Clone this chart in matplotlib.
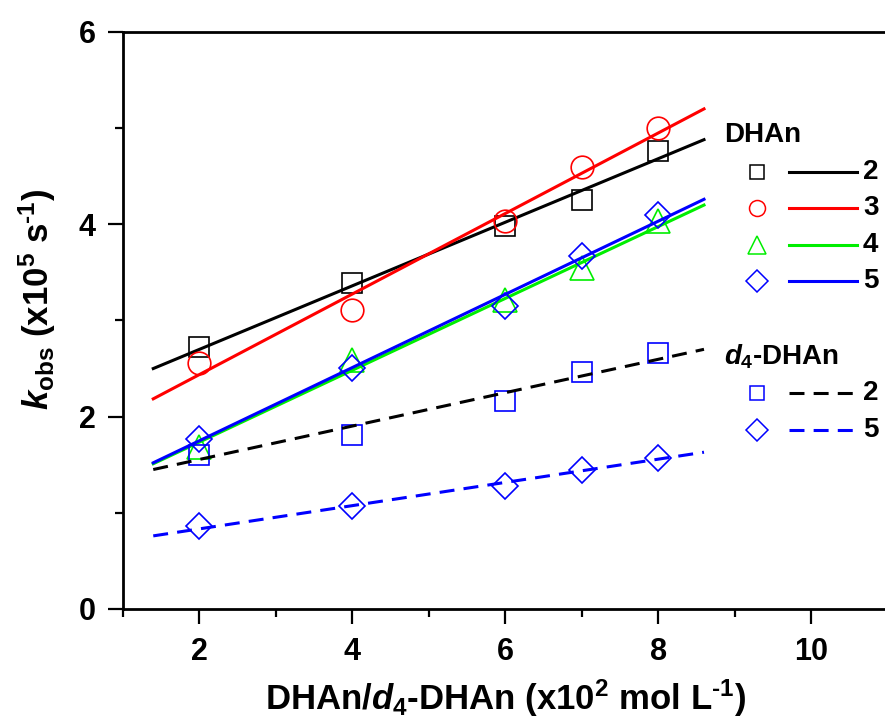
import matplotlib
matplotlib.use('Agg')
import matplotlib.pyplot as plt
from matplotlib.ticker import MultipleLocator

plt.rcParams['font.family'] = ['Liberation Sans', 'DejaVu Sans']
plt.rcParams['font.weight'] = 'bold'
plt.rcParams['mathtext.fontset'] = 'custom'
plt.rcParams['mathtext.rm'] = 'Liberation Sans:bold'
plt.rcParams['mathtext.bf'] = 'Liberation Sans:bold'
plt.rcParams['mathtext.it'] = 'Liberation Sans:bold:italic'

# 浓度 (x10^2 mol/L)
conc = [2, 4, 6, 7, 8]

# DHAn 系列
dhan_2 = [2.72, 3.39, 3.98, 4.25, 4.76]
dhan_3 = [2.56, 3.11, 4.03, 4.60, 5.00]
dhan_4 = [1.68, 2.59, 3.21, 3.55, 4.03]
dhan_5 = [1.77, 2.51, 3.15, 3.67, 4.10]
# d4-DHAn 系列
d4_2 = [1.60, 1.81, 2.16, 2.46, 2.66]
d4_5 = [0.86, 1.07, 1.28, 1.45, 1.57]

# 拟合直线两端
fit_x = [1.4, 8.6]
fit_dhan_2 = [2.50, 4.88]
fit_dhan_3 = [2.185, 5.20]
fit_dhan_4 = [1.51, 4.20]
fit_dhan_5 = [1.52, 4.26]
fit_d4_2 = [1.45, 2.70]
fit_d4_5 = [0.76, 1.63]

legend_dhan = ['2', '3', '4', '5']
legend_d4 = ['2', '5']

fig = plt.figure(figsize=(8.85, 7.28), dpi=100)
ax = fig.add_axes([0.1386, 0.1635, 0.8643, 0.7926])

DASH = (4.9, 3.0)
series = [
    # y, fit, marker, ms, mcolor, lcolor, dashed
    (dhan_2, fit_dhan_2, 's', 13.7, 'black', 'black', False),
    (dhan_3, fit_dhan_3, 'o', 16.3, 'red', 'red', False),
    (dhan_4, fit_dhan_4, '^', 17.5, '#00ee00', '#00ee00', False),
    (dhan_5, fit_dhan_5, 'D', 13.7, 'blue', 'blue', False),
    (d4_2, fit_d4_2, 's', 13.7, 'blue', 'black', True),
    (d4_5, fit_d4_5, 'D', 13.7, 'blue', 'blue', True),
]
for y, fy, mk, ms, mc, lc, dashed in series:
    ax.plot(conc, y, mk, ms=ms, mfc='none', mec=mc, mew=1.2, ls='none')
    ln, = ax.plot(fit_x, fy, color=lc, lw=2.2)
    if dashed:
        ln.set_dashes(DASH)

ax.set_xlim(1, 11)
ax.set_ylim(0, 6)
ax.xaxis.set_major_locator(MultipleLocator(2))
ax.xaxis.set_minor_locator(MultipleLocator(1))
ax.yaxis.set_major_locator(MultipleLocator(2))
ax.yaxis.set_minor_locator(MultipleLocator(1))
ax.spines['right'].set_visible(False)
for s in ('left', 'bottom', 'top'):
    ax.spines[s].set_linewidth(2.0)
ax.tick_params(which='major', direction='out', length=10.5, width=1.6,
               labelsize=22, pad=9)
ax.tick_params(which='minor', direction='out', length=5.5, width=1.6)
ax.tick_params(axis='x', which='major', pad=10)

ax.set_xlabel(r'DHAn/$d_4$-DHAn (x10$^2$ mol L$^{\text{-}1}$)', fontsize=25,
              fontweight='bold')
ax.xaxis.set_label_coords(0.5, -0.118)
ax.set_ylabel(r'$k_{\mathrm{obs}}$ (x10$^5$ s$^{\text{-}1}$)', fontsize=25,
              fontweight='bold', va='center')
ax.yaxis.set_label_coords(-0.112, 0.537)

# 手工图例 (轴坐标)
tA = ax.transAxes
mk_x, ln_x0, ln_x1, lab_x, title_x = 0.829, 0.871, 0.960, 0.968, 0.786
ax.text(title_x, 0.821, 'DHAn', transform=tA, fontsize=20, fontweight='bold',
        ha='left', va='center')
rows_dhan = [0.757, 0.695, 0.631, 0.568]
leg_ms = [10.0, 11.5, 13.5, 10.7]
for (y, fy, mk, ms, mc, lc, dashed), ry, lab, lms in zip(series[:4], rows_dhan,
                                                      legend_dhan, leg_ms):
    ax.plot([mk_x], [ry], mk, ms=lms, mfc='none', mec=mc, mew=1.1,
            transform=tA, clip_on=False)
    ax.plot([ln_x0, ln_x1], [ry, ry], color=lc, lw=2.2, transform=tA,
            clip_on=False)
    ax.text(lab_x, ry, lab, transform=tA, fontsize=20, fontweight='bold',
            ha='left', va='center')

ax.text(title_x, 0.437, r'$d_4$-DHAn', transform=tA, fontsize=20,
        fontweight='bold', ha='left', va='center')
rows_d4 = [0.374, 0.310]
for (y, fy, mk, ms, mc, lc, dashed), ry, lab, lms in zip(series[4:], rows_d4,
                                                      legend_d4, [10.0, 10.7]):
    ax.plot([mk_x], [ry], mk, ms=lms, mfc='none', mec=mc, mew=1.1,
            transform=tA, clip_on=False)
    ln, = ax.plot([ln_x0, ln_x1], [ry, ry], color=lc, lw=2.2, transform=tA,
                  clip_on=False)
    ln.set_dashes(DASH)
    ax.text(lab_x, ry, lab, transform=tA, fontsize=20, fontweight='bold',
            ha='left', va='center')

fig.savefig('out.png', dpi=100)
